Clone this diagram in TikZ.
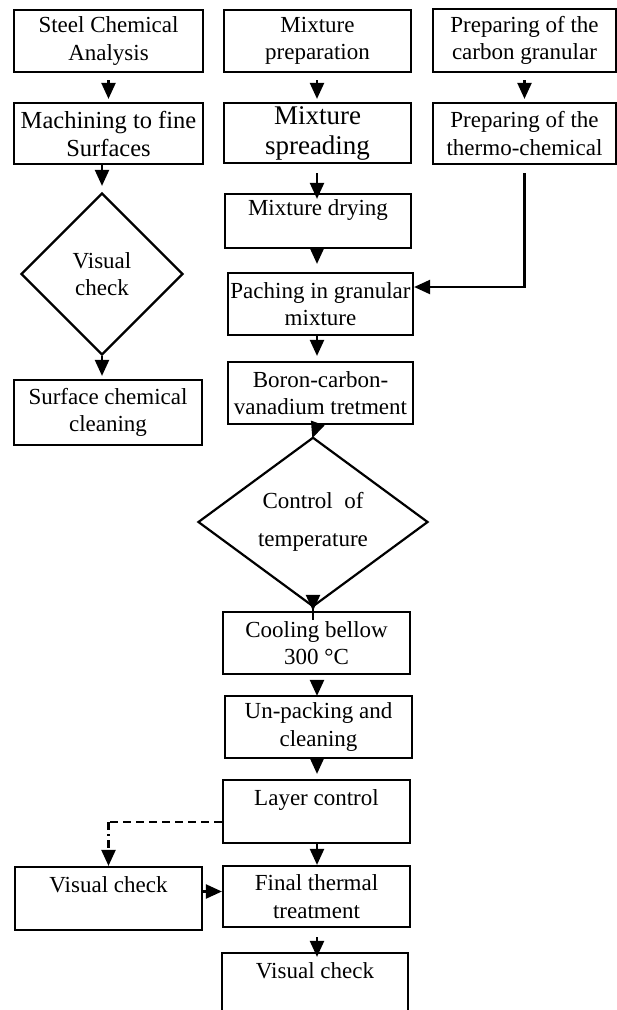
\documentclass[tikz,border=0pt]{standalone}
\usepackage{fontspec}
\setmainfont{Liberation Serif}
\usetikzlibrary{arrows.meta,positioning,calc,shapes.geometric}

\begin{document}
\begin{tikzpicture}[x=1pt,y=-1pt,
    box/.style={draw,line width=2.2pt,align=center,inner sep=2pt,
      minimum width=187pt,minimum height=62pt,
      font=\fontsize{23}{27.5}\selectfont},
    check/.style={draw,diamond,line width=2.2pt,align=center,inner sep=0pt,
      font=\fontsize{23}{27.5}\selectfont},
    flow/.style={-{Triangle[width=14pt,length=16pt]},line width=2.2pt}]
  \useasboundingbox (0,0) rectangle (617,1010);
  \coordinate (spine) at (317,0);
  % left column
  \node[box,minimum width=189pt] (steel) at (108.5,41) {Steel Chemical\\Analysis};
  \node[box,minimum width=189pt,minimum height=61pt,font=\fontsize{24.5}{28}\selectfont]
    (machining) at (108.5,133.5) {Machining to fine\\Surfaces};
  \node[check,minimum width=162pt,minimum height=162pt] (visual) at (102,274) {Visual\\check};
  \node[box,minimum width=188pt,minimum height=65pt] (surface) at (108,412.5) {Surface chemical\\cleaning};
  % middle column
  \node[box] (mixprep) at (317.5,41) {Mixture\\preparation};
  \node[box,minimum height=60pt,font=\fontsize{27}{30}\selectfont]
    (spreading) at (317.5,133) {Mixture\\spreading};
  \node[box,minimum width=186pt,minimum height=54pt] (drying) at (318,221) {Mixture drying\\\mbox{}};
  \node[box,minimum width=185pt] (paching) at (320.5,304) {Paching in granular\\mixture};
  \node[box,minimum width=185pt] (boron) at (320.5,393) {Boron-carbon-\\vanadium tretment};
  \node[check,minimum width=230pt,minimum height=160pt] (control) at (313,522)
    {Control~~of\\[11pt]temperature};
  \node[box] (cooling) at (316.5,643) {Cooling bellow\\300 °C};
  \node[box] (unpack) at (318.5,727) {Un-packing and\\cleaning};
  \node[box,minimum height=63pt] (layer) at (316.5,811.5) {Layer control\\\mbox{}};
  \node[box,minimum height=61pt] (final) at (316.5,896.5) {Final thermal\\treatment};
  \node[box,minimum width=186pt,minimum height=63pt] (lastcheck) at (315,984.5) {Visual check\\\mbox{}};
  % side check
  \node[box,minimum height=63pt] (sidecheck) at (108.5,898.5) {Visual check\\\mbox{}};
  % right column
  \node[box,minimum width=183pt,minimum height=63pt] (carbon) at (524.5,40.5) {Preparing of the\\carbon granular};
  \node[box,minimum width=183pt,minimum height=61pt] (thermo) at (524.5,133.5) {Preparing of the\\thermo-chemical};

  % arrows
  \draw[flow,shorten <=7pt,shorten >=3pt] (steel) -- (machining);
  \draw[flow,shorten >=6pt] (machining.south -| visual.north) -- (visual.north);
  \draw[flow,shorten >=3pt] (visual.south) -- (visual.south |- surface.north);
  \draw[flow,shorten <=7pt,shorten >=3pt] (carbon) -- (thermo);
  \draw[flow,shorten <=8pt] (thermo.south) |- ($(paching.east)+(0,-17)$);
  \draw[flow,shorten <=7pt,shorten >=3pt] (mixprep.south -| spine) -- (spreading.north -| spine);
  \draw[flow,shorten <=9pt,shorten >=-6pt] (spreading.south -| spine) -- (drying.north -| spine);
  \draw[flow,shorten <=-6pt,shorten >=8pt] (drying.south -| spine) -- (paching.north -| spine);
  \draw[flow,shorten >=5pt] (paching.south -| spine) -- (boron.north -| spine);
  \draw[flow,shorten <=2pt,shorten >=-2pt] (boron.south -| spine) -- (control.north);
  \draw[flow,shorten <=-12pt] (control.south) -- (control.south |- cooling.north);
  \draw[flow,shorten <=8pt,shorten >=-1pt] (cooling.south -| spine) -- (unpack.north -| spine);
  \draw[flow,shorten <=-8pt,shorten >=5pt] (unpack.south -| spine) -- (layer.north -| spine);
  \draw[flow] (layer.south -| spine) -- (final.north -| spine);
  \draw[flow,shorten <=9pt,shorten >=-5pt] (final.south -| spine) -- (lastcheck.north -| spine);
  % feedback to the side check
  \path (layer.west) ++(0,10.5) coordinate (tap);
  \coordinate (bend) at (tap -| sidecheck.north);
  \draw[line width=2.2pt,dash pattern=on 8pt off 5pt] (tap) -- (bend);
  \draw[flow,dash pattern=on 8pt off 4pt on 2pt off 4pt] (bend) -- (sidecheck.north);
  \path (sidecheck.east) ++(0,-7) coordinate (side);
  \draw[flow] (side) -- (side -| final.west);
\end{tikzpicture}
\end{document}
